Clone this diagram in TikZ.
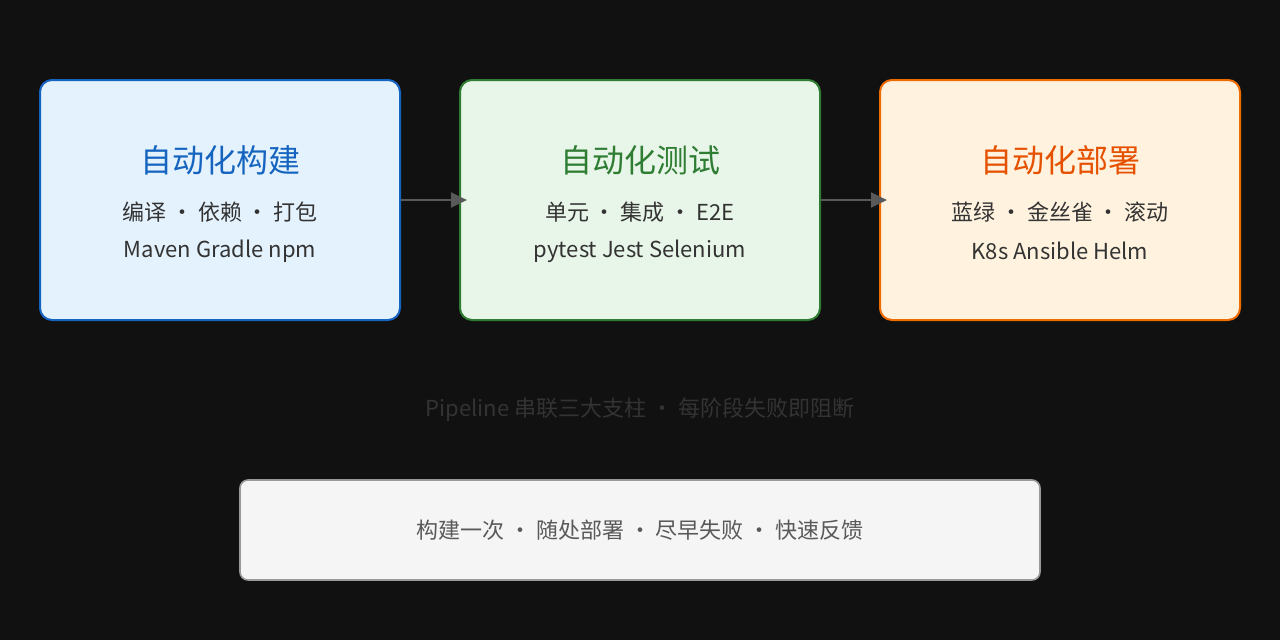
\documentclass[tikz,border=0pt]{standalone}
\usepackage{fontspec}
\setmainfont{Noto Sans CJK SC}
\usetikzlibrary{arrows.meta}
\definecolor{bgdark}{HTML}{111111}
\definecolor{txtmain}{HTML}{333333}
\definecolor{buildfill}{HTML}{E3F2FD}\definecolor{buildline}{HTML}{1565C0}
\definecolor{testfill}{HTML}{E8F5E9}\definecolor{testline}{HTML}{2E7D32}
\definecolor{deployfill}{HTML}{FFF3E0}\definecolor{deployline}{HTML}{EF6C00}
\definecolor{deploytitle}{HTML}{E65100}
\definecolor{notefill}{HTML}{F5F5F5}\definecolor{noteline}{HTML}{999999}
\tikzset{
  stage/.style={draw, line width=1.5pt, rounded corners=9pt, minimum width=270pt, minimum height=180pt},
  title/.style={font=\fontsize{24}{28}\selectfont},
  detail/.style={font=\fontsize{16.5}{20}\selectfont, text=txtmain},
  flow/.style={draw=gray!70!black, line width=2.2pt, -{Triangle[length=12pt,width=11pt]}, shorten >=-6pt}
}
\begin{document}
\begin{tikzpicture}[x=0.75pt,y=-0.75pt]
\fill[bgdark] (0,0) rectangle (1280,640);
\useasboundingbox (0,0) rectangle (1280,640);
% three stages
\node (build) [stage, fill=buildfill, draw=buildline] at (220,200) {};
\node (test) [stage, fill=testfill, draw=testline] at (640,200) {};
\node (deploy) [stage, fill=deployfill, draw=deployline] at (1060,200) {};
\node (buildT) [title, text=buildline] at (220,160) {自动化构建};
\node (buildA) [detail] at (220,212) {编译 · 依赖 · 打包};
\node (buildB) [detail] at (220,251) {Maven Gradle npm};
\node (testT) [title, text=testline] at (640,160) {自动化测试};
\node (testA) [detail] at (640,212) {单元 · 集成 · E2E};
\node (testB) [detail] at (640,251) {pytest Jest Selenium};
\node (deployT) [title, text=deploytitle] at (1060,160) {自动化部署};
\node (deployA) [detail] at (1060,212) {蓝绿 · 金丝雀 · 滚动};
\node (deployB) [detail] at (1060,251) {K8s Ansible Helm};
\draw [flow] (build.east) -- (test.west);
\draw [flow] (test.east) -- (deploy.west);
% caption and note
\node (caption) [detail, text=txtmain] at (640,410) {Pipeline 串联三大支柱 · 每阶段失败即阻断};
\node (note) [draw=noteline, fill=notefill, line width=1.2pt, rounded corners=6pt,
  minimum width=600pt, minimum height=75pt, font=\fontsize{16.5}{20}\selectfont, text=black!65]
  at (640,530) {构建一次 · 随处部署 · 尽早失败 · 快速反馈};
\end{tikzpicture}
\end{document}
